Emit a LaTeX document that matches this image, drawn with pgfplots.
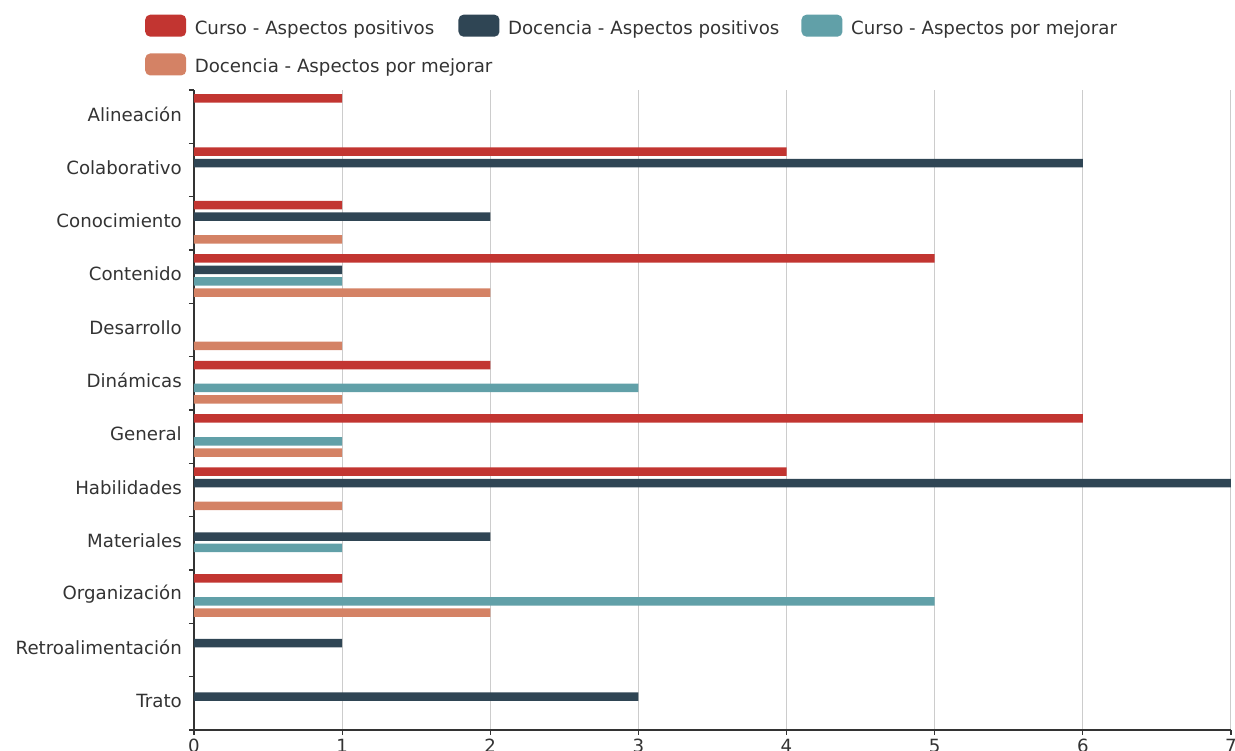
\documentclass[border=0pt]{standalone}
\usepackage{fontspec}
\setmainfont{DejaVu Sans}
\usepackage{pgfplots}
\pgfplotsset{compat=1.18}
\definecolor{cp}{HTML}{C23531}
\definecolor{dp}{HTML}{2F4554}
\definecolor{cm}{HTML}{61A0A8}
\definecolor{dm}{HTML}{D48265}
\definecolor{txt}{HTML}{333333}
\definecolor{gridc}{HTML}{CCCCCC}
\pgfplotsset{
  legrect/.style={legend image code/.code={%
    \fill[rounded corners=5pt] (0pt,-8.2pt) rectangle (41pt,13.8pt);
    \path (49.6pt,0pt);}}
}
\newcommand{\fs}{\fontsize{18.2}{21}\selectfont}
\begin{document}
\fs
\begin{tikzpicture}
\path[use as bounding box, clip] (-194pt,-21pt) rectangle (1041pt,730pt);
\begin{axis}[
  at={(0pt,0pt)}, anchor=south west,
  scale only axis,
  width=1037pt, height=640pt,
  xbar, bar width=8.5pt,
  xmin=0, xmax=7,
  ymin=-0.5, ymax=11.5,
  axis lines*=left,
  axis line style={txt, line width=1.2pt},
  xtick={0,...,7},
  xmajorgrids, major grid style={gridc, line width=0.9pt},
  ytick={-0.5,0.5,...,11.5},
  yticklabels={,Trato,Retroalimentación,Organización,Materiales,Habilidades,General,Dinámicas,Desarrollo,Contenido,Conocimiento,Colaborativo,Alineación},
  tick align=outside,
  major tick length=5pt,
  tick style={txt, line width=1.2pt},
  y tick label style={inner sep=0pt, xshift=-7pt, yshift=-24pt, text=txt, font=\fs},
  x tick label style={text=txt, font=\fs, yshift=2pt},
  /pgf/number format/assume math mode=true,
  legend columns=3,
  legend style={draw=none, fill=none, inner sep=0pt, at={(-0.04725,1.118)}, anchor=north west,
    nodes={inner sep=0pt, text=txt, font=\fs},
    column sep=0pt, row sep=16.7pt},
  legend cell align=left,
]
\addplot[fill=cp, draw=none, bar shift=18.3pt, legrect] coordinates {
  (1,11) (4,10) (1,9) (5,8) (2,6) (6,5) (4,4) (1,2)};
\addlegendentry{\makebox[263.7pt][l]{Curso - Aspectos positivos}}
\addplot[fill=dp, draw=none, bar shift=6.8pt, legrect] coordinates {
  (6,10) (2,9) (1,8) (7,4) (2,3) (1,1) (3,0)};
\addlegendentry{\makebox[293.4pt][l]{Docencia - Aspectos positivos}}
\addplot[fill=cm, draw=none, bar shift=-4.6pt, legrect] coordinates {
  (1,8) (3,6) (1,5) (1,3) (5,2)};
\addlegendentry{Curso - Aspectos por mejorar}
\addplot[fill=dm, draw=none, bar shift=-16pt, legrect] coordinates {
  (1,9) (2,8) (1,7) (1,6) (1,5) (1,4) (2,2)};
\addlegendentry{\makebox[263.7pt][l]{Docencia - Aspectos por mejorar}}
\end{axis}
\end{tikzpicture}
\end{document}
